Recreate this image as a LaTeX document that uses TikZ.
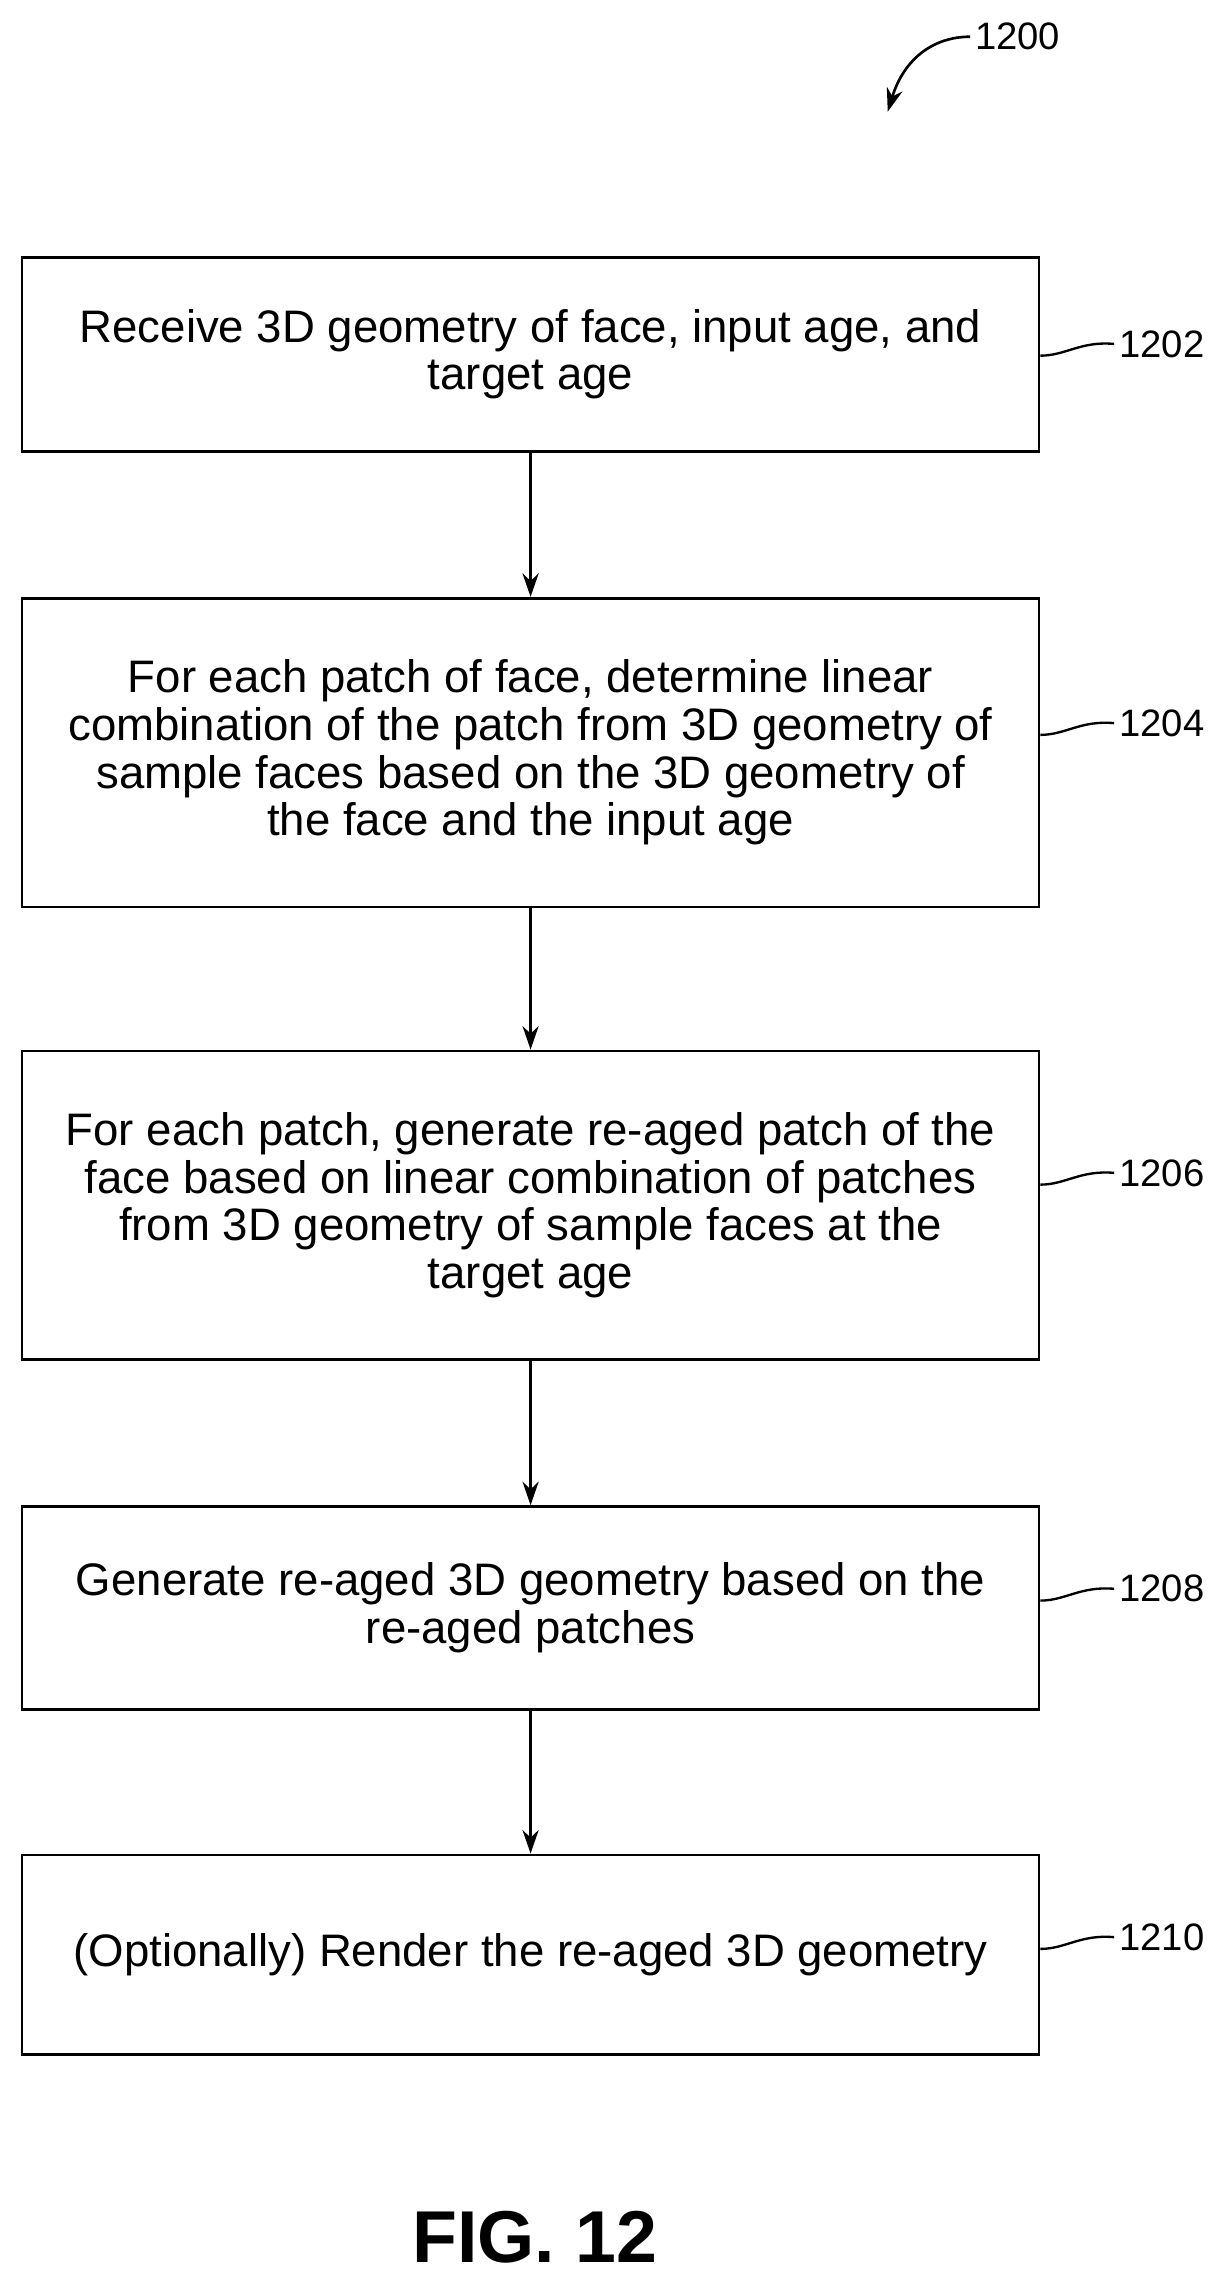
\documentclass[tikz,border=0pt]{standalone}
\usepackage{fontspec}
\setmainfont{Liberation Sans}
\usetikzlibrary{arrows.meta}
\begin{document}
\begin{tikzpicture}[x=1pt,y=-1pt,
 box/.style={draw,line width=1.8pt,align=center,font=\fontsize{31}{32.5}\selectfont},
 arr/.style={-{Stealth[length=16pt,width=11pt]},line width=1.8pt},
 lab/.style={font=\fontsize{26}{30}\selectfont,anchor=west},
 lead/.style={line width=1.6pt}]
\useasboundingbox (0,0) rectangle (830,1554);
\node[box,minimum width=692pt,minimum height=132pt] (b1) at (361,241) {Receive 3D geometry of face, input age, and\\target age};
\node[box,minimum width=692pt,minimum height=210pt] (b2) at (361,512) {For each patch of face, determine linear\\combination of the patch from 3D geometry of\\sample faces based on the 3D geometry of\\the face and the input age};
\node[box,minimum width=692pt,minimum height=210pt] (b3) at (361,820) {For each patch, generate re-aged patch of the\\face based on linear combination of patches\\from 3D geometry of sample faces at the\\target age};
\node[box,minimum width=692pt,minimum height=138pt] (b4) at (361,1094) {Generate re-aged 3D geometry based on the\\re-aged patches};
\node[box,minimum width=692pt,minimum height=136pt] (b5) at (361,1330) {(Optionally) Render the re-aged 3D geometry};
\draw[arr] (b1) -- (b2);
\draw[arr] (b2) -- (b3);
\draw[arr] (b3) -- (b4);
\draw[arr] (b4) -- (b5);
\foreach \n/\t/\y in {b1/1202/234,b2/1204/492,b3/1206/798,b4/1208/1081,b5/1210/1318}{
 \node[lab] (l\t) at (758,\y) {\t};
 \draw[lead] (\n.east|-0,\y+8) .. controls (725,\y+8) and (735,\y-2) .. (l\t.west);
}
\node[lab] (l1200) at (660,25) {1200};
\coordinate (a1200) at (604,76);
\draw[arr] (l1200.west) .. controls (635,25) and (615,40) .. (a1200);
\node[font=\bfseries\fontsize{50}{56}\selectfont] (fig) at (364,1522) {FIG. 12};
\end{tikzpicture}
\end{document}
